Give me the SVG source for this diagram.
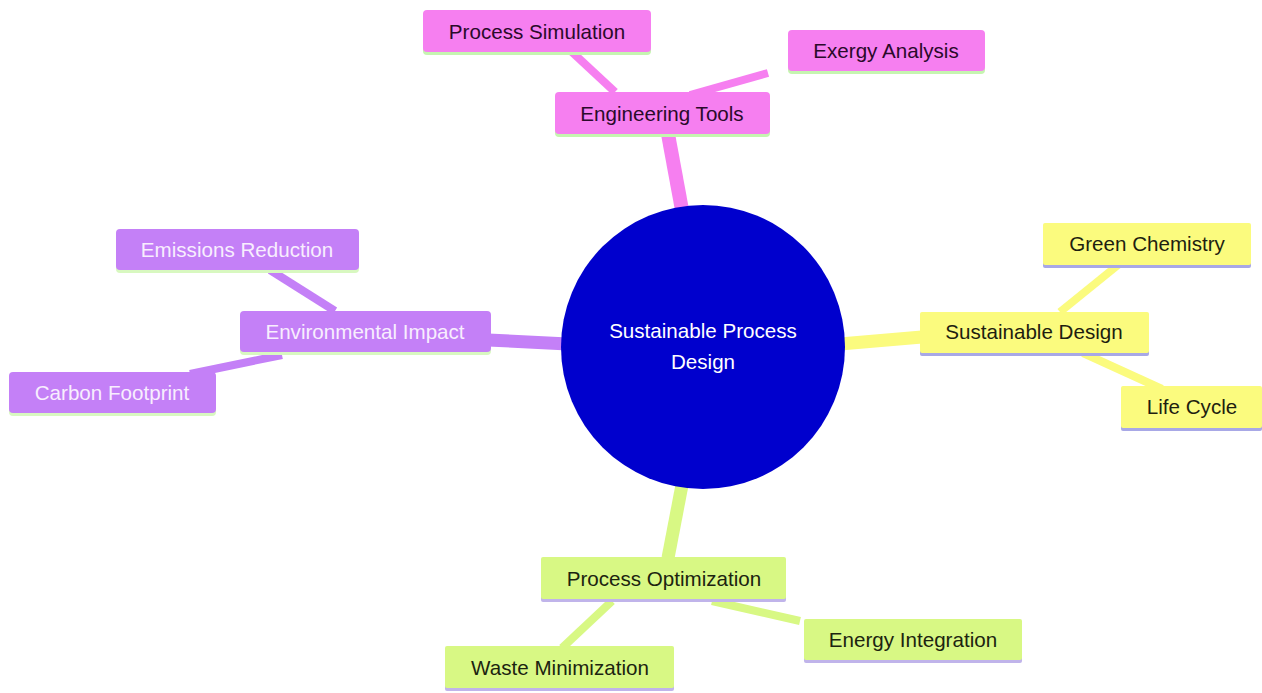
<svg xmlns="http://www.w3.org/2000/svg" width="1262" height="693" viewBox="0 0 1262 693">
<style>
text{font-family:"Liberation Sans",Arial,sans-serif;font-size:20.6px;text-anchor:middle;dominant-baseline:central}
.pink rect.b{fill:#f67ff0}.pink rect.u{fill:#c5f5b0}.pink text{fill:#2a0a2a}
.purple rect.b{fill:#c480f7}.purple rect.u{fill:#d8f8c0}.purple text{fill:#f8eefe}
.yellow rect.b{fill:#fbfb7e}.yellow rect.u{fill:#a8a8e6}.yellow text{fill:#1e1e10}
.green rect.b{fill:#d8f884}.green rect.u{fill:#c0b4ea}.green text{fill:#1c2410}
.ep{stroke:#f67ff0}.eu{stroke:#c480f7}.ey{stroke:#fbfb7e}.eg{stroke:#d8f884}
#edges line{stroke-linecap:butt}
</style>
<rect width="1262" height="693" fill="#ffffff"/>
<g id="edges">
<line class="ep" x1="668" y1="134" x2="682" y2="210" stroke-width="14"/>
<line class="ep" x1="572" y1="52" x2="615" y2="92" stroke-width="8"/>
<line class="ep" x1="768" y1="73" x2="690" y2="95" stroke-width="8"/>
<line class="eu" x1="488" y1="340" x2="568" y2="344" stroke-width="13"/>
<line class="eu" x1="270" y1="270" x2="335" y2="311" stroke-width="8"/>
<line class="eu" x1="190" y1="374" x2="282" y2="355" stroke-width="8"/>
<line class="ey" x1="840" y1="344" x2="922" y2="337" stroke-width="13"/>
<line class="ey" x1="1118" y1="265" x2="1060" y2="312" stroke-width="8"/>
<line class="ey" x1="1083" y1="353" x2="1162" y2="389" stroke-width="8"/>
<line class="eg" x1="682" y1="485" x2="668" y2="558" stroke-width="13"/>
<line class="eg" x1="612" y1="601" x2="562" y2="648" stroke-width="8"/>
<line class="eg" x1="712" y1="601" x2="800" y2="621" stroke-width="8"/>
</g>
<g id="root">
<circle cx="703" cy="347" r="142" fill="#0000cd"/>
<text x="703" y="330" fill="#ffffff">Sustainable Process</text>
<text x="703" y="361" fill="#ffffff">Design</text>
</g>
<g id="engineering-tools" class="pink"><rect class="u" x="555" y="95" width="215" height="42" rx="4"/><rect class="b" x="555" y="92" width="215" height="42" rx="4"/><text x="662" y="113">Engineering Tools</text></g>
<g id="process-simulation" class="pink"><rect class="u" x="423" y="13" width="228" height="42" rx="4"/><rect class="b" x="423" y="10" width="228" height="42" rx="4"/><text x="537" y="31">Process Simulation</text></g>
<g id="exergy-analysis" class="pink"><rect class="u" x="788" y="33" width="197" height="41" rx="4"/><rect class="b" x="788" y="30" width="197" height="41" rx="4"/><text x="886" y="50">Exergy Analysis</text></g>
<g id="environmental-impact" class="purple"><rect class="u" x="240" y="314" width="251" height="41" rx="4"/><rect class="b" x="240" y="311" width="251" height="41" rx="4"/><text x="365" y="331">Environmental Impact</text></g>
<g id="emissions-reduction" class="purple"><rect class="u" x="116" y="232" width="243" height="41" rx="4"/><rect class="b" x="116" y="229" width="243" height="41" rx="4"/><text x="237" y="249">Emissions Reduction</text></g>
<g id="carbon-footprint" class="purple"><rect class="u" x="9" y="375" width="207" height="41" rx="4"/><rect class="b" x="9" y="372" width="207" height="41" rx="4"/><text x="112" y="392">Carbon Footprint</text></g>
<g id="sustainable-design" class="yellow"><rect class="u" x="920" y="315" width="229" height="41" rx="2"/><rect class="b" x="920" y="312" width="229" height="41" rx="2"/><text x="1034" y="331">Sustainable Design</text></g>
<g id="green-chemistry" class="yellow"><rect class="u" x="1043" y="226" width="208" height="42" rx="2"/><rect class="b" x="1043" y="223" width="208" height="42" rx="2"/><text x="1147" y="243">Green Chemistry</text></g>
<g id="life-cycle" class="yellow"><rect class="u" x="1121" y="389" width="141" height="42" rx="2"/><rect class="b" x="1121" y="386" width="141" height="42" rx="2"/><text x="1192" y="406">Life Cycle</text></g>
<g id="process-optimization" class="green"><rect class="u" x="541" y="560" width="245" height="42" rx="2"/><rect class="b" x="541" y="557" width="245" height="42" rx="2"/><text x="664" y="578">Process Optimization</text></g>
<g id="waste-minimization" class="green"><rect class="u" x="445" y="649" width="229" height="42" rx="2"/><rect class="b" x="445" y="646" width="229" height="42" rx="2"/><text x="560" y="667">Waste Minimization</text></g>
<g id="energy-integration" class="green"><rect class="u" x="804" y="622" width="218" height="41" rx="2"/><rect class="b" x="804" y="619" width="218" height="41" rx="2"/><text x="913" y="639">Energy Integration</text></g>
</svg>
